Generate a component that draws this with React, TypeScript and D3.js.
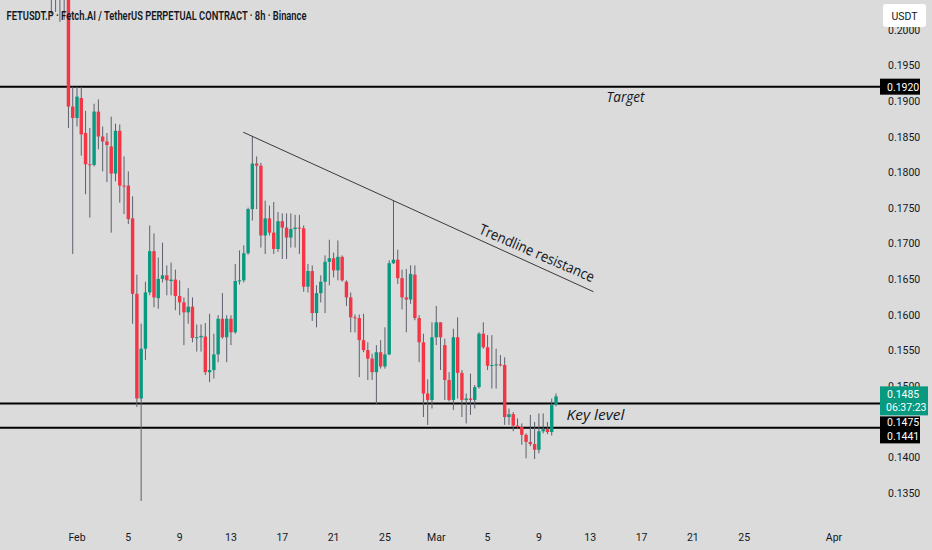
import * as d3 from "d3";

// FETUSDT.P 8h candles, first one opens 2025-01-30 00:00 UTC
const firstCandle = "2025-01-30T00:00:00Z";
const candleHours = 8;

const opens = [
  0.211, 0.213, 0.21, 0.208, 0.212, 0.1892, 0.1876, 0.1904, 0.1855, 0.1811,
  0.181, 0.1885, 0.185, 0.1843, 0.1836, 0.1798, 0.1858, 0.1781, 0.1781, 0.1735,
  0.1629, 0.1482, 0.1552, 0.1631, 0.1689, 0.1623, 0.165, 0.1655, 0.1647, 0.1649,
  0.1626, 0.1617, 0.1603, 0.1611, 0.1567, 0.1568, 0.1569, 0.1519, 0.1522, 0.1544,
  0.1594, 0.1568, 0.1594, 0.1575, 0.1647, 0.1648, 0.1686, 0.1748, 0.1812, 0.1809,
  0.1711, 0.1735, 0.1715, 0.1692, 0.1731, 0.1722, 0.1708, 0.172, 0.1722, 0.1721,
  0.1639, 0.1661, 0.1602, 0.163, 0.1646, 0.1674, 0.1679, 0.1662, 0.1681, 0.1646,
  0.1624, 0.1596, 0.1595, 0.1564, 0.155, 0.1538, 0.1519, 0.1547, 0.1527, 0.1544,
  0.1672, 0.1677, 0.1651, 0.1624, 0.1621, 0.1656, 0.1595, 0.1561, 0.1489, 0.148,
  0.1568, 0.1589, 0.1557, 0.1508, 0.148, 0.1568, 0.1518, 0.148, 0.1482, 0.148,
  0.1498, 0.1573, 0.1554, 0.1528, 0.1529, 0.153, 0.1529, 0.1456, 0.146, 0.1444,
  0.1442, 0.1431, 0.1421, 0.1418, 0.141, 0.1436, 0.1439, 0.1435, 0.1473,
];
const highs = [
  0.216, 0.216, 0.213, 0.215, 0.215, 0.192, 0.192, 0.192, 0.1886, 0.1862,
  0.1896, 0.1902, 0.1864, 0.1855, 0.1878, 0.1868, 0.1867, 0.1822, 0.1801, 0.1766,
  0.1656, 0.1587, 0.1646, 0.1725, 0.1714, 0.168, 0.1701, 0.1669, 0.1673, 0.1663,
  0.1648, 0.1624, 0.1637, 0.1624, 0.1586, 0.1586, 0.1588, 0.1601, 0.1573, 0.1599,
  0.163, 0.1599, 0.1599, 0.1671, 0.169, 0.1697, 0.175, 0.1851, 0.1822, 0.1813,
  0.176, 0.1753, 0.1758, 0.1744, 0.1742, 0.1742, 0.1742, 0.174, 0.174, 0.1725,
  0.1671, 0.1669, 0.1641, 0.1655, 0.1683, 0.1705, 0.1687, 0.1704, 0.1683, 0.1648,
  0.1631, 0.16, 0.16, 0.1601, 0.1561, 0.1545, 0.1557, 0.1564, 0.1582, 0.1676,
  0.176, 0.1691, 0.1663, 0.1664, 0.1669, 0.1669, 0.1599, 0.1573, 0.1509, 0.1589,
  0.1612, 0.1589, 0.1566, 0.1519, 0.158, 0.1596, 0.1522, 0.1489, 0.1517, 0.1501,
  0.1575, 0.1589, 0.1571, 0.1571, 0.1552, 0.1543, 0.154, 0.1468, 0.1463, 0.1454,
  0.1447, 0.1433, 0.1459, 0.1449, 0.1461, 0.1461, 0.1449, 0.1482, 0.1489,
];
const lows = [
  0.2022, 0.2025, 0.2011, 0.2014, 0.1862, 0.1685, 0.1864, 0.1823, 0.1769, 0.1736,
  0.1808, 0.1832, 0.1801, 0.1786, 0.1715, 0.1787, 0.1757, 0.1741, 0.1727, 0.1587,
  0.147, 0.1338, 0.1536, 0.1627, 0.161, 0.1608, 0.1645, 0.1627, 0.1627, 0.1606,
  0.1599, 0.1557, 0.1587, 0.1561, 0.1548, 0.1548, 0.1515, 0.1505, 0.151, 0.1533,
  0.1566, 0.1533, 0.1557, 0.1573, 0.1642, 0.1645, 0.1684, 0.1732, 0.1748, 0.1694,
  0.1685, 0.1711, 0.1685, 0.1688, 0.1678, 0.1678, 0.1694, 0.1694, 0.1685, 0.1632,
  0.1631, 0.1591, 0.1582, 0.1617, 0.1602, 0.1641, 0.1652, 0.1648, 0.1646, 0.1612,
  0.1575, 0.1575, 0.1512, 0.1547, 0.1508, 0.1508, 0.1473, 0.1524, 0.1524, 0.1543,
  0.1671, 0.1643, 0.1607, 0.1575, 0.1615, 0.1592, 0.1533, 0.1456, 0.1445, 0.1468,
  0.1557, 0.1522, 0.148, 0.1478, 0.1466, 0.1482, 0.1456, 0.1447, 0.1459, 0.1468,
  0.1496, 0.1552, 0.1522, 0.1496, 0.1496, 0.1527, 0.1445, 0.1445, 0.1436, 0.144,
  0.1417, 0.1398, 0.1415, 0.1397, 0.1405, 0.1433, 0.1432, 0.143, 0.1471,
];
const closes = [
  0.213, 0.21, 0.208, 0.212, 0.1892, 0.1876, 0.1906, 0.1853, 0.1811, 0.181,
  0.1885, 0.185, 0.1843, 0.1838, 0.1798, 0.1858, 0.1781, 0.178, 0.1734, 0.1629,
  0.1482, 0.1552, 0.1631, 0.1689, 0.1624, 0.165, 0.1655, 0.1648, 0.1649, 0.1626,
  0.1617, 0.1603, 0.1611, 0.1567, 0.1568, 0.157, 0.1519, 0.1522, 0.1544, 0.1594,
  0.1568, 0.1594, 0.1575, 0.1647, 0.1648, 0.1686, 0.1748, 0.1812, 0.1809, 0.1711,
  0.1735, 0.1715, 0.1692, 0.1731, 0.1722, 0.1708, 0.172, 0.1722, 0.1721, 0.1639,
  0.1661, 0.1602, 0.163, 0.1646, 0.1674, 0.1679, 0.1662, 0.1681, 0.1648, 0.1624,
  0.1596, 0.1595, 0.1564, 0.155, 0.1538, 0.1519, 0.1547, 0.1527, 0.1544, 0.1672,
  0.1677, 0.1651, 0.1624, 0.1621, 0.1657, 0.1595, 0.1561, 0.1489, 0.148, 0.1568,
  0.1589, 0.1568, 0.1508, 0.148, 0.1568, 0.1518, 0.148, 0.1482, 0.148, 0.1498,
  0.1573, 0.1554, 0.1528, 0.1529, 0.153, 0.1529, 0.1456, 0.146, 0.1444, 0.1442,
  0.1431, 0.1421, 0.1418, 0.141, 0.1436, 0.1439, 0.1435, 0.1473, 0.1485,
];

const dateTicks = [
  "2025-02-01", "2025-02-05", "2025-02-09", "2025-02-13", "2025-02-17",
  "2025-02-21", "2025-02-25", "2025-03-01", "2025-03-05", "2025-03-09",
  "2025-03-13", "2025-03-17", "2025-03-21", "2025-03-25", "2025-04-01",
];
const priceTicks = [
  0.135, 0.14, 0.145, 0.15, 0.155, 0.16, 0.165, 0.17, 0.175, 0.18, 0.185,
  0.19, 0.195, 0.2,
];

const targetLevel = 0.192;
const keyLevels = [0.1475, 0.1441];
const trendStart = { time: "2025-02-13T23:00:00Z", price: 0.1856 };
const trendEnd = { time: "2025-03-13T06:00:00Z", price: 0.1632 };
const lastPrice = 0.1485;
const countdown = "06:37:23";

const W = 932;
const H = 550;
const BG = "#dbdbdb";
const UP = "#089981";
const DOWN = "#f23645";
const WICK = "#5d606b";
const TEXT = "#131722";
const AXIS_FONT = "Roboto, sans-serif";
const NOTE_FONT = "'Open Sans', sans-serif";
const AXIS_SIZE = 10.5;

const x = d3
  .scaleUtc()
  .domain([new Date("2025-02-01T00:00:00Z"), new Date("2025-04-01T00:00:00Z")])
  .range([77, 834]);
const y = d3.scaleLinear().domain([0.135, 0.195]).range([492.5, 65.3]);

const t0 = new Date(firstCandle).getTime();
const candles = opens.map((o, i) => ({
  time: new Date(t0 + i * candleHours * 3600 * 1000),
  o,
  h: highs[i],
  l: lows[i],
  c: closes[i],
}));

const step = x(new Date(t0 + candleHours * 3600 * 1000)) - x(new Date(t0));
const bodyW = step * 0.8;
const fmtTick = (d: Date) =>
  d.getUTCDate() === 1 ? d3.utcFormat("%b")(d) : d3.utcFormat("%-d")(d);

const labelX = 888;
const boxX = 880;

export default function App() {
  return (
    <>
      <style>{`body{margin:0;background:${BG}}`}</style>
      <svg width={W} height={H} style={{ display: "block" }}>
        <rect width={W} height={H} fill={BG} />

        {/* price axis labels */}
        {priceTicks.map((p) => (
          <text
            key={p}
            x={labelX}
            y={y(p) + 4}
            fontFamily={AXIS_FONT}
            fontSize={AXIS_SIZE}
            fill={TEXT}
          >
            {p.toFixed(4)}
          </text>
        ))}

        {/* date axis labels */}
        {dateTicks.map((d) => {
          const date = new Date(d + "T00:00:00Z");
          return (
            <text
              key={d}
              x={x(date)}
              y={541}
              textAnchor="middle"
              fontFamily={AXIS_FONT}
              fontSize={AXIS_SIZE}
              fill={TEXT}
            >
              {fmtTick(date)}
            </text>
          );
        })}

        {/* horizontal levels */}
        {[targetLevel, ...keyLevels].map((p) => (
          <line
            key={p}
            x1={0}
            x2={boxX}
            y1={y(p)}
            y2={y(p)}
            stroke="#000"
            strokeWidth={2}
          />
        ))}

        {/* candles */}
        <g>
          {candles.map((d, i) => (
            <line
              key={"w" + i}
              x1={x(d.time)}
              x2={x(d.time)}
              y1={y(d.h)}
              y2={y(d.l)}
              stroke={WICK}
              strokeWidth={1}
            />
          ))}
          {candles.map((d, i) => {
            const top = y(Math.max(d.o, d.c));
            const bottom = y(Math.min(d.o, d.c));
            return (
              <rect
                key={"b" + i}
                x={x(d.time) - bodyW / 2}
                y={top}
                width={bodyW}
                height={Math.max(1, bottom - top)}
                fill={d.c >= d.o ? UP : DOWN}
              />
            );
          })}
        </g>

        {/* trendline */}
        <line
          x1={x(new Date(trendStart.time))}
          y1={y(trendStart.price)}
          x2={x(new Date(trendEnd.time))}
          y2={y(trendEnd.price)}
          stroke="#3a3a3a"
          strokeWidth={1}
        />

        {/* annotations */}
        <text
          x={606.5}
          y={y(targetLevel) + 15.5}
          fontFamily={NOTE_FONT}
          fontStyle="italic"
          fontSize={15}
          fill={TEXT}
          textLength={38}
          lengthAdjust="spacingAndGlyphs"
        >
          Target
        </text>
        <text
          x={566.5}
          y={y(keyLevels[0]) + 16}
          fontFamily={NOTE_FONT}
          fontStyle="italic"
          fontSize={15}
          fill={TEXT}
          textLength={58}
          lengthAdjust="spacingAndGlyphs"
        >
          Key level
        </text>
        <text
          transform={`translate(478,233) rotate(23.5)`}
          fontFamily={NOTE_FONT}
          fontSize={14.5}
          fill={TEXT}
          textLength={124}
          lengthAdjust="spacingAndGlyphs"
        >
          Trendline resistance
        </text>

        {/* title */}
        <text
          x={6.5}
          y={19.5}
          fontFamily={AXIS_FONT}
          fontSize={12}
          fontWeight={600}
          fill={TEXT}
          textLength={300}
          lengthAdjust="spacingAndGlyphs"
        >
          FETUSDT.P · Fetch.AI / TetherUS PERPETUAL CONTRACT · 8h · Binance
        </text>

        {/* currency box */}
        <rect x={883} y={4} width={43} height={23} rx={3} fill="#fff" />
        <text
          x={904.5}
          y={19.5}
          textAnchor="middle"
          fontFamily={AXIS_FONT}
          fontSize={AXIS_SIZE}
          fill={TEXT}
        >
          USDT
        </text>

        {/* level price tags */}
        <rect x={boxX} y={y(targetLevel) - 8} width={40} height={16} fill="#000" />
        <text
          x={labelX - 1}
          y={y(targetLevel) + 4}
          fontFamily={AXIS_FONT}
          fontSize={AXIS_SIZE}
          fill="#fff"
        >
          {targetLevel.toFixed(4)}
        </text>

        <rect x={boxX} y={y(lastPrice) - 10} width={48} height={29} fill={UP} />
        <text
          x={labelX - 1}
          y={y(lastPrice) + 2}
          fontFamily={AXIS_FONT}
          fontSize={AXIS_SIZE}
          fill="#fff"
        >
          {lastPrice.toFixed(4)}
        </text>
        <text
          x={labelX - 2}
          y={y(lastPrice) + 15}
          fontFamily={AXIS_FONT}
          fontSize={AXIS_SIZE}
          fill="#fff"
        >
          {countdown}
        </text>

        <rect x={boxX} y={y(lastPrice) + 20} width={40} height={27} fill="#000" />
        {keyLevels.map((p, i) => (
          <text
            key={p}
            x={labelX - 1}
            y={y(lastPrice) + 30 + i * 14}
            fontFamily={AXIS_FONT}
            fontSize={AXIS_SIZE}
            fill="#fff"
          >
            {p.toFixed(4)}
          </text>
        ))}
      </svg>
    </>
  );
}
